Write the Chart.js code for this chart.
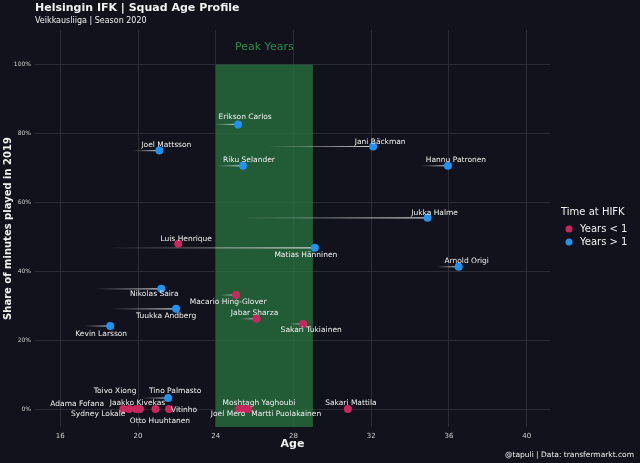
<!DOCTYPE html>
<html><head><meta charset="utf-8">
<script src="https://cdn.jsdelivr.net/npm/chart.js@4"></script>
<style>html,body{margin:0;background:#12121c}#c{display:block}</style>
</head><body>
<canvas id="c" width="640" height="463"></canvas>
<script>
const players = ['Erikson Carlos','Joel Mattsson','Jani Bäckman','Riku Selander','Hannu Patronen','Jukka Halme','Luis Henrique','Matias Hänninen','Arnold Origi','Nikolas Saira','Macario Hing-Glover','Tuukka Andberg','Jabar Sharza','Sakari Tukiainen','Kevin Larsson','Tino Palmasto','Adama Fofana','Sydney Lokale','Toivo Xiong','Otto Huuhtanen','Jaakko Kivekas','Vitinho','Joel Mero','Moshtagh Yaghoubi','Martti Puolakainen','Sakari Mattila'];
const ages = [25.15,21.1,32.1,25.4,35.95,34.9,22.07,29.1,36.5,21.2,25.05,21.96,26.1,28.5,18.57,21.55,19.24,19.55,19.9,20.1,20.9,21.6,25.2,25.4,25.67,30.8];
const minutesShare = [82.6,75.0,76.2,70.6,70.6,55.5,48.0,46.8,41.3,34.9,33.1,29.1,26.2,24.7,24.1,3.2,0,0,0,0,0,0,0,0,0,0];
const trailStart = [24.0,19.8,26.8,24.1,34.6,25.6,null,18.7,35.4,17.9,24.3,18.7,25.3,27.8,17.3,20.3,null,null,null,null,null,null,null,null,null,null];
const yearsOver1 = [1,1,1,1,1,1,0,1,1,1,0,1,0,0,1,1,0,0,0,0,0,0,0,0,0,0];
const labelOffset = [[7,-7],[7,-6],[7,-4],[6,-6],[8,-6],[7,-5],[8,-5],[-9,7],[8,-6],[-7,5],[-8,7],[-10,7],[-2,-6],[8,6],[-9,8],[7,-7],[-46,-5],[-31,5],[-21,-18],[20,12],[-18,-6],[15,1],[-11,5],[16,-6],[38,5],[3,-6]];
const xTicks = [16,20,24,28,32,36,40];
const yTicks = [0,20,40,60,80,100];
const peakYears = [24,29];

const RED = '#c9275d', BLUE = '#1f92f2';
const pts = f => players.map((p,i)=>({x:ages[i],y:minutesShare[i],i})).filter(d=>f(d.i));

const extras = {
  id:'extras',
  beforeDatasetsDraw(ch){
    const {ctx, scales:{x,y}} = ch;
    ctx.save();
    ctx.fillStyle = 'rgba(40,120,65,0.72)';
    ctx.fillRect(x.getPixelForValue(peakYears[0]), y.getPixelForValue(100), x.getPixelForValue(peakYears[1])-x.getPixelForValue(peakYears[0]), y.bottom-y.getPixelForValue(100));
    ctx.fillStyle = '#2f8a4c';
    ctx.font = '11px "DejaVu Sans"'; ctx.textAlign='center'; ctx.textBaseline='middle';
    ctx.fillText('Peak Years', x.getPixelForValue((peakYears[0]+peakYears[1])/2), y.getPixelForValue(105));
    trailStart.forEach((s,i)=>{
      if(s==null) return;
      const x0=x.getPixelForValue(s), x1=x.getPixelForValue(ages[i]), py=y.getPixelForValue(minutesShare[i]);
      const g=ctx.createLinearGradient(x0,0,x1,0);
      g.addColorStop(0,'rgba(200,200,200,0.05)'); g.addColorStop(1,'rgba(230,230,230,0.9)');
      ctx.strokeStyle=g; ctx.lineWidth=1.2;
      ctx.beginPath(); ctx.moveTo(x0,py); ctx.lineTo(x1,py); ctx.stroke();
    });
    ctx.restore();
  },
  afterDatasetsDraw(ch){
    const {ctx, scales:{x,y}} = ch;
    ctx.save();
    ctx.font='7.5px "DejaVu Sans"'; ctx.fillStyle='#f0f0f0'; ctx.textAlign='center'; ctx.textBaseline='middle';
    players.forEach((p,i)=>{
      ctx.fillText(p, x.getPixelForValue(ages[i])+labelOffset[i][0], y.getPixelForValue(minutesShare[i])+labelOffset[i][1]);
    });
    ctx.textAlign='left';
    ctx.font='bold 11px "DejaVu Sans"'; ctx.fillText('Helsingin IFK | Squad Age Profile',35,8);
    ctx.font='8px "DejaVu Sans"'; ctx.fillText('Veikkausliiga | Season 2020',35,21);
    ctx.font='10px "DejaVu Sans"'; ctx.fillText('Time at HIFK',561,212);
    [[RED,'Years < 1',229],[BLUE,'Years > 1',242]].forEach(([c,t,yy])=>{
      ctx.fillStyle=c; ctx.beginPath(); ctx.arc(569,yy,3.5,0,Math.PI*2); ctx.fill();
      ctx.fillStyle='#f0f0f0'; ctx.fillText(t,580,yy);
    });
    ctx.textAlign='right'; ctx.font='7.5px "DejaVu Sans"';
    ctx.fillText('@tapuli | Data: transfermarkt.com',634,455);
    ctx.restore();
  }
};

new Chart(document.getElementById('c'),{
  type:'scatter',
  data:{datasets:[
    {data:pts(i=>!yearsOver1[i]),backgroundColor:RED,borderWidth:0,pointRadius:4},
    {data:pts(i=>yearsOver1[i]),backgroundColor:BLUE,borderWidth:0,pointRadius:4}
  ]},
  options:{
    responsive:false,animation:false,
    layout:{padding:{top:30,right:90,bottom:0,left:0}},
    plugins:{legend:{display:false},tooltip:{enabled:false}},
    scales:{
      x:{min:14.7,max:41.2,afterBuildTicks:a=>{a.ticks=xTicks.map(v=>({value:v}))},afterFit:a=>{a.height=36},
        grid:{color:'#2c2c36',drawTicks:false},border:{display:false},
        ticks:{color:'#cfcfcf',font:{size:7,family:'DejaVu Sans'},padding:5},
        title:{display:true,text:'Age',color:'#f0f0f0',font:{size:11,weight:'bold',family:'DejaVu Sans'},padding:{top:0,bottom:12}}},
      y:{min:-5.2,max:110,afterBuildTicks:a=>{a.ticks=yTicks.map(v=>({value:v}))},afterFit:a=>{a.width=35},
        grid:{color:'#2c2c36',drawTicks:false},border:{display:false},
        ticks:{color:'#cfcfcf',font:{size:6,family:'DejaVu Sans'},padding:4,callback:v=>v+'%'},
        title:{display:true,text:'Share of minutes played in 2019',color:'#f0f0f0',font:{size:10,weight:'bold',family:'DejaVu Sans'},padding:{top:2,bottom:2}}}
    }
  },
  plugins:[extras]
});
</script>
</body></html>
